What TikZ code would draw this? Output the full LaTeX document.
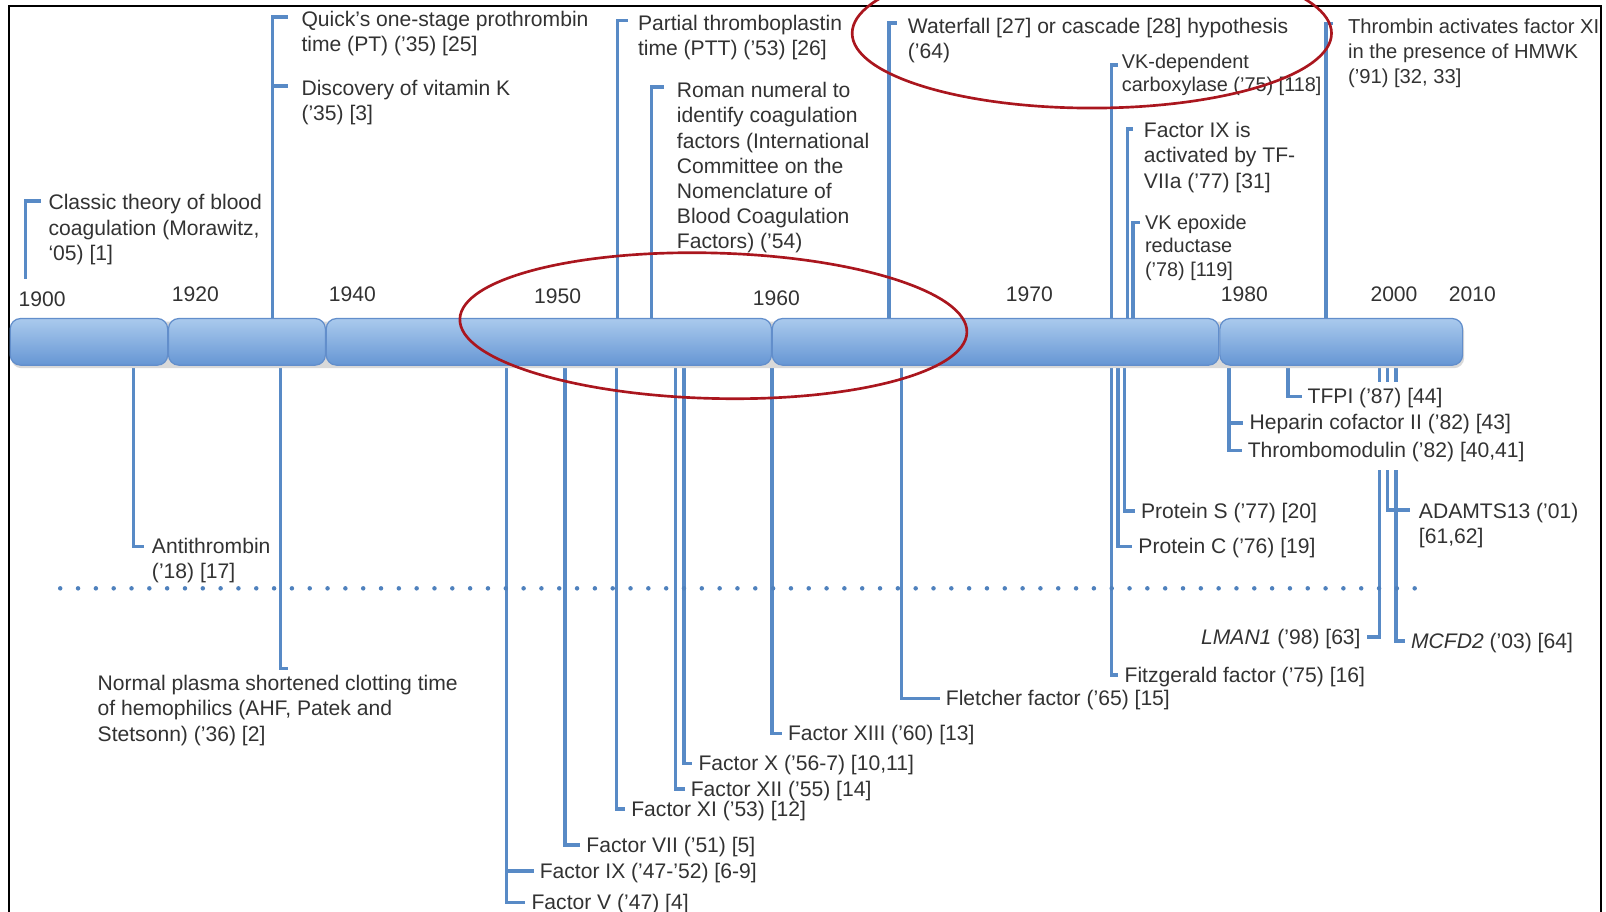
\documentclass[tikz,border=0pt]{standalone}
\usepackage{fontspec}
\setmainfont{Liberation Sans}
\usetikzlibrary{calc}

\definecolor{stemblue}{RGB}{88,138,198}
\definecolor{bartop}{RGB}{170,202,237}
\definecolor{barbot}{RGB}{102,150,212}
\definecolor{barline}{RGB}{98,142,203}
\definecolor{txtgray}{RGB}{50,50,50}
\definecolor{ringred}{RGB}{170,22,30}
\definecolor{dotblue}{RGB}{79,129,189}

\newcommand{\evtfont}{\fontsize{10.3}{12.3}\selectfont}
\newcommand{\evtsmfont}{\fontsize{9.7}{11.4}\selectfont}

\tikzset{
  lbl/.style={inner sep=0pt, text=txtgray, font=\evtfont},
  evt/.style={lbl, anchor=base west, align=left},
  evtsm/.style={evt, font=\evtsmfont},
  one/.style={lbl, anchor=base west, outer xsep=3pt, text height=8pt, text depth=1pt},
  yr/.style={lbl, anchor=base},
  stem/.style={draw=stemblue, line width=1.7pt},
  seg/.style={top color=bartop, bottom color=barbot, draw=barline, line width=0.6pt, rounded corners=5pt},
  ring/.style={draw=ringred, line width=1.3pt},
  dots/.style={draw=dotblue, line width=2.2pt, line cap=round, dash pattern=on 0pt off 8.7pt},
}

\begin{document}
\begin{tikzpicture}[x=0.5pt, y=-0.5pt]
\useasboundingbox (0,0) rectangle (1568,890);
\clip (0,0) rectangle (1564,890);

% frame
\draw[line width=1pt] (8.4,900) |- (1563,5.5) -- (1563,900);

% years
\node[yr] (y1900) at (41.2,299.4) {1900};
\node[yr] (y1920) at (190.8,294.6) {1920};
\node[yr] (y1940) at (344,294.6) {1940};
\node[yr] (y1950) at (544.5,296.2) {1950};
\node[yr] (y1960) at (758,297.8) {1960};
\node[yr] (y1970) at (1005,294.6) {1970};
\node[yr] (y1980) at (1215,294.6) {1980};
\node[yr] (y2000) at (1361,294.6) {2000};
\node[yr] (y2010) at (1437.5,294.6) {2010};

% events above the bar (multi-line texts sit on their last line)
\coordinate (b-classic) at (25,272);
\coordinate (t-classic) at (40.3,196);
\draw[stem] (b-classic) |- (t-classic);
\node[evt] (classic) at (47,254.2) {Classic theory of blood\\coagulation (Morawitz,\\‘05) [1]};

\coordinate (b-quick) at (266,311);
\coordinate (t-quick) at (280.7,16.5);
\coordinate (t-vitk) at (280.7,84);
\draw[stem] (b-quick) |- (t-quick);
\draw[stem] (b-quick |- t-vitk) -- (t-vitk);
\node[evt] (quick) at (294,50.6) {Quick’s one-stage prothrombin\\time (PT) (’35) [25]};
\node[evt] (vitk) at (294,117.4) {Discovery of vitamin K\\(’35) [3]};

\coordinate (b-ptt) at (603,311);
\coordinate (t-ptt) at (613,20);
\draw[stem] (b-ptt) |- (t-ptt);
\node[evt] (ptt) at (622.5,54.6) {Partial thromboplastin\\time (PTT) (’53) [26]};

\coordinate (b-roman) at (636,311);
\coordinate (t-roman) at (648,85);
\draw[stem] (b-roman) |- (t-roman);
\node[evt] (roman) at (660.5,243) {Roman numeral to\\identify coagulation\\factors (International\\Committee on the\\Nomenclature of\\Blood Coagulation\\Factors) (’54)};

\coordinate (b-cascade) at (868,311);
\coordinate (t-cascade) at (876,22.5);
\draw[stem] (b-cascade) |- (t-cascade);
\node[evt] (cascade) at (886,57.1) {Waterfall [27] or cascade [28] hypothesis\\(’64)};

\coordinate (b-vkc) at (1085,311);
\coordinate (t-vkc) at (1091.5,63.5);
\draw[stem] (b-vkc) |- (t-vkc);
\node[evtsm] (vkc) at (1095,89.5) {VK-dependent\\carboxylase (’75) [118]};

\coordinate (b-fixa) at (1101,311);
\coordinate (t-fixa) at (1106.5,126);
\draw[stem] (b-fixa) |- (t-fixa);
\node[evt] (fixa) at (1116.5,183.6) {Factor IX is\\activated by TF-\\VIIa (’77) [31]};

\coordinate (b-vkor) at (1106,311);
\coordinate (t-vkor) at (1113,217.4);
\draw[stem] (b-vkor) |- (t-vkor);
\node[evtsm] (vkor) at (1117.5,269.5) {VK epoxide\\reductase\\(’78) [119]};

\coordinate (b-hmwk) at (1294.4,311);
\coordinate (t-hmwk) at (1301.5,22.8);
\draw[stem] (b-hmwk) |- (t-hmwk);
\node[evt, font=\fontsize{9.85}{12.3}\selectfont] (hmwk) at (1315.8,81.7) {Thrombin activates factor XI\\in the presence of HMWK\\(’91) [32, 33]};

% events below the bar
\coordinate (b-at) at (130.5,356.5);
\coordinate (t-at) at (141,533.7);
\draw[stem] (b-at) |- (t-at);
\node[evt] (at) at (148,564.6) {Antithrombin\\(’18) [17]};

\coordinate (b-ahf) at (274,356.5);
\coordinate (t-ahf) at (281,652.5);
\draw[stem] (b-ahf) |- (t-ahf);
\node[evt] (ahf) at (95,723.6) {Normal plasma shortened clotting time\\of hemophilics (AHF, Patek and\\Stetsonn) (’36) [2]};

\coordinate (b-f5) at (494.5,356.5);
\node[one] (f9) at (521,857.6) {Factor IX (’47-’52) [6-9]};
\node[one] (f5) at (513,888) {Factor V (’47) [4]};
\draw[stem] (b-f5) |- (f5.west);
\draw[stem] (b-f5 |- f9.west) -- (f9.west);

\coordinate (b-f7) at (551.4,356.5);
\node[one] (f7) at (566.6,832) {Factor VII (’51) [5]};
\draw[stem] (b-f7) |- (f7.west);

\coordinate (b-f11) at (602,356.5);
\node[one] (f11) at (610.4,797) {Factor XI (’53) [12]};
\draw[stem] (b-f11) |- (f11.west);

\coordinate (b-f12) at (659.4,356.5);
\node[one] (f12) at (668.5,777.5) {Factor XII (’55) [14]};
\draw[stem] (b-f12) |- (f12.west);

\coordinate (b-f10) at (667.8,356.5);
\node[one] (f10) at (676,752.5) {Factor X (’56-7) [10,11]};
\draw[stem] (b-f10) |- (f10.west);

\coordinate (b-f13) at (753.5,356.5);
\node[one] (f13) at (763.4,723) {Factor XIII (’60) [13]};
\draw[stem] (b-f13) |- (f13.west);

\coordinate (b-pk) at (880.3,356.5);
\node[one] (pk) at (917.5,689) {Fletcher factor (’65) [15]};
\draw[stem] (b-pk) |- (pk.west);

\coordinate (b-hk) at (1085,356.5);
\node[one] (hk) at (1092,666) {Fitzgerald factor (’75) [16]};
\draw[stem] (b-hk) |- (hk.west);

\coordinate (b-pc) at (1091.5,356.5);
\node[one] (pc) at (1105.5,540.5) {Protein C (’76) [19]};
\draw[stem] (b-pc) |- (pc.west);

\coordinate (b-ps) at (1098,356.5);
\node[one] (ps) at (1108,506) {Protein S (’77) [20]};
\draw[stem] (b-ps) |- (ps.west);

\coordinate (b-hc) at (1200,356.5);
\node[one] (hc) at (1214,419.8) {Heparin cofactor II (’82) [43]};
\node[one] (tm) at (1212.3,446.6) {Thrombomodulin (’82) [40,41]};
\draw[stem] (b-hc) |- (tm.west);
\draw[stem] (b-hc |- hc.west) -- (hc.west);

\coordinate (b-tfpi) at (1257.7,356.5);
\node[one] (tfpi) at (1270.7,394) {TFPI (’87) [44]};
\draw[stem] (b-tfpi) |- (tfpi.west);

% the three late stems, broken under the text
\coordinate (b-lman) at (1347,356.5);
\coordinate (b-adam) at (1354.6,356.5);
\coordinate (b-mcfd) at (1363,356.5);
\foreach \c in {lman,adam,mcfd}
  \draw[stem] (b-\c) -- ($(b-\c)+(0,16.2)$);
\coordinate (s-lman) at (1347,459);
\coordinate (s-adam) at (1354.6,459);
\coordinate (s-mcfd) at (1363,459);
\coordinate (t-adam) at (1377,498);
\node[one, anchor=base east] (lman) at (1334.4,628.8) {\textit{LMAN1} (’98) [63]};
\node[one] (mcfd) at (1371.7,633) {\textit{MCFD2} (’03) [64]};
\node[evt] (adam) at (1385,530.6) {ADAMTS13 (’01)\\{[}61,62]};
\draw[stem] (s-lman) |- (lman.east);
\draw[stem] (s-mcfd) |- (mcfd.west);
\draw[stem] (s-adam) |- (t-adam);

% dotted divider
\coordinate (dotL) at (58.8,574.4);
\coordinate (dotR) at (1393.6,574.4);
\draw[dots] (dotL) -- (dotR);

% time bar
\fill[black!15, rounded corners=5pt] (11,314) rectangle (1429.5,359.5);
\shadedraw[seg] (10,311) rectangle (163.7,356.5);
\shadedraw[seg] (164.5,311) rectangle (317.7,356.5);
\shadedraw[seg] (318.5,311) rectangle (753.2,356.5);
\shadedraw[seg] (754,311) rectangle (1190,356.5);
\shadedraw[seg] (1191,311) rectangle (1428,356.5);

% red rings
\draw[ring, rotate around={-1.5:(696.5,318)}] (696.5,318) ellipse [x radius=247.6, y radius=71];
\draw[ring] (1066,32.5) ellipse [x radius=234, y radius=73];
\end{tikzpicture}
\end{document}
